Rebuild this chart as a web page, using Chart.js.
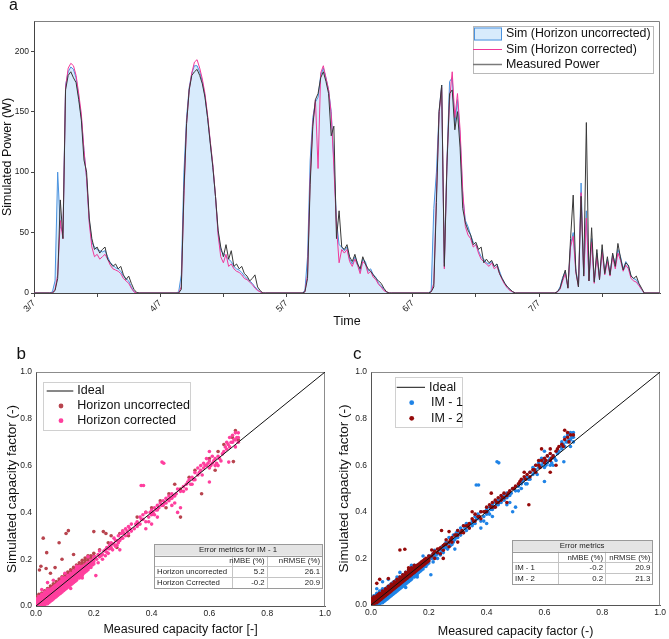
<!DOCTYPE html>
<html><head><meta charset="utf-8">
<script src="https://cdn.jsdelivr.net/npm/chart.js@4.4.1/dist/chart.umd.min.js"></script>
<style>
html,body{margin:0;padding:0;background:#fff;}
#wrap{position:relative;width:669px;height:639px;overflow:hidden;background:#fff;}
canvas{position:absolute;}
</style></head><body>
<div id="wrap">
<canvas id="ca" width="669" height="335" style="left:0;top:0;width:669px;height:335px"></canvas>
<canvas id="cb" width="335" height="304" style="left:0;top:335px;width:335px;height:304px"></canvas>
<canvas id="cc" width="334" height="304" style="left:335px;top:335px;width:334px;height:304px"></canvas>
</div>
<script>
// ---------- DATA ----------
const dayLabels = ['3/7','4/7','5/7','6/7','7/7'];
const dayHours = [3,3.5,4,4.5,5,5.5,6,6.5,7,7.5,8,8.5,9,9.5,10,10.5,11,11.5,12,12.5,13,13.5,14,14.5,15,15.5,16,16.5,17,17.5,18,18.5,19,19.5,20];
const powerTicks = [0,50,100,150,200];
const capTicks = [0,0.2,0.4,0.6,0.8,1.0];

const simUncorrected = [
 [0,1,10,100,55,50,172,183,187,185,178,162,145,118,95,60,42,38,36,35,34,35,30,25,23,21,20,18,14,12,10,5,1,0,0],
 [0,1,15,100,145,170,182,188,188,183,175,163,145,125,105,80,50,35,33,30,28,26,22,20,19,17,14,12,10,8,5,3,1,0,0],
 [0,2,30,110,145,158,162,180,186,178,168,150,110,60,40,38,35,38,28,24,30,25,18,28,26,18,20,15,13,8,6,3,1,0,0],
 [0,2,70,100,150,172,25,110,175,178,140,160,130,80,60,55,48,42,40,35,30,28,25,24,26,22,24,18,12,8,5,3,1,0,0],
 [0,1,5,13,18,5,40,50,20,6,91,16,68,12,45,10,33,13,36,18,28,17,32,24,36,30,20,26,22,14,12,11,7,3,0]
];
const simCorrected = [
 [0,0,3,15,60,45,170,186,190,188,180,165,148,118,95,58,38,30,32,28,30,32,28,23,20,19,18,16,12,10,8,4,1,0,0],
 [0,0,5,80,140,168,182,191,193,186,177,165,147,126,106,80,48,30,25,32,22,24,20,18,17,15,12,11,9,7,4,2,1,0,0],
 [0,1,15,95,140,160,103,182,188,178,168,148,105,55,25,36,33,36,26,22,28,23,16,26,24,16,18,13,11,7,5,2,1,0,0],
 [0,1,8,80,148,170,20,108,160,183,145,165,135,85,55,48,45,38,40,33,28,26,24,22,25,20,22,16,11,7,4,2,1,0,0],
 [0,1,3,10,16,4,38,47,17,5,83,14,62,10,42,8,30,11,34,15,26,14,30,20,33,27,18,23,20,12,10,9,6,3,0]
];
const measuredPower = [
 [0,0,2,12,77,45,168,180,183,178,174,160,143,110,100,62,45,36,38,33,36,38,28,25,22,24,20,22,15,11,14,8,3,0.5,0],
 [0,0,3,85,140,168,180,183,185,180,173,162,145,124,104,80,52,38,30,40,28,35,22,24,20,22,16,14,10,12,15,5,2,0,0],
 [0,1,12,90,138,160,165,178,183,175,165,130,138,45,68,38,36,40,30,26,32,24,20,30,24,20,18,15,12,10,8,4,1,0,0],
 [0,1,5,75,150,172,22,105,165,168,135,150,120,70,58,52,48,40,42,36,38,25,28,25,27,22,24,16,12,8,5,3,1,0,0],
 [0,1,4,12,19,4,45,81,18,5,80,14,141,10,54,9,36,11,40,16,30,15,33,22,41,29,19,25,23,14,12,14,8,4,0]
];

const idealLine = [[0,0],[1,1]];

// dense low-CF band, as columns [measured, [simulated values...]]
const bandCorrected = [
 [0,[0,0.01,0.02,0.03]],[0.005,[0,0.01,0.02,0.03]],[0.01,[0,0.01,0.02,0.03,0.04]],[0.015,[0,0.01,0.02,0.03,0.04]],
 [0.02,[0,0.01,0.02,0.03,0.04,0.05]],[0.025,[0,0.01,0.02,0.03,0.04,0.05]],[0.03,[0.005,0.015,0.025,0.035,0.045,0.055]],
 [0.035,[0.01,0.02,0.03,0.04,0.05,0.06]],[0.04,[0.01,0.02,0.03,0.04,0.05,0.06,0.07]],[0.045,[0.015,0.025,0.035,0.045,0.055,0.065]],
 [0.05,[0.02,0.03,0.04,0.05,0.06,0.07]],[0.055,[0.025,0.035,0.045,0.055,0.065,0.075]],[0.06,[0.03,0.04,0.05,0.06,0.07,0.08]],
 [0.065,[0.035,0.045,0.055,0.065,0.075,0.085]],[0.07,[0.04,0.05,0.06,0.07,0.08,0.09]],[0.075,[0.045,0.055,0.065,0.075,0.085,0.095]],
 [0.08,[0.05,0.06,0.07,0.08,0.09,0.1]],[0.085,[0.055,0.065,0.075,0.085,0.095,0.105]],[0.09,[0.06,0.07,0.08,0.09,0.1,0.11]],
 [0.095,[0.065,0.075,0.085,0.095,0.105,0.115]],[0.1,[0.07,0.08,0.09,0.1,0.11,0.12]],[0.105,[0.075,0.085,0.095,0.105,0.115]],
 [0.11,[0.08,0.09,0.1,0.11,0.12,0.13]],[0.115,[0.085,0.095,0.105,0.115,0.125]],[0.12,[0.09,0.1,0.11,0.12,0.13,0.14]],
 [0.125,[0.095,0.105,0.115,0.125,0.135]],[0.13,[0.1,0.11,0.12,0.13,0.14,0.15]],[0.135,[0.105,0.115,0.125,0.135,0.145]],
 [0.14,[0.11,0.12,0.13,0.14,0.15,0.16]],[0.145,[0.12,0.13,0.14,0.15,0.16]],[0.15,[0.12,0.13,0.14,0.15,0.16,0.17]],
 [0.155,[0.13,0.14,0.15,0.16]],[0.16,[0.13,0.14,0.15,0.16,0.17]],[0.165,[0.14,0.15,0.16,0.17]],[0.17,[0.145,0.155,0.165,0.175]],
 [0.175,[0.15,0.16,0.17,0.18]],[0.18,[0.155,0.165,0.175,0.185]],[0.185,[0.165,0.175,0.185]],[0.19,[0.165,0.175,0.185,0.195]],
 [0.195,[0.175,0.185,0.195]],[0.2,[0.18,0.19,0.2,0.21]]
];
const bandUncorrected = [
 [0,[0.02,0.03,0.04]],[0.01,[0.03,0.04,0.05]],[0.02,[0.035,0.045,0.055]],[0.03,[0.045,0.055,0.065]],[0.04,[0.055,0.065,0.075]],
 [0.05,[0.065,0.075,0.085]],[0.06,[0.075,0.085,0.095]],[0.07,[0.085,0.095,0.105]],[0.08,[0.095,0.105,0.115]],[0.09,[0.105,0.115,0.125]],
 [0.1,[0.115,0.125,0.135]],[0.11,[0.125,0.135,0.145]],[0.12,[0.135,0.145,0.155]],[0.13,[0.145,0.155,0.165]],[0.14,[0.155,0.165,0.175]],
 [0.15,[0.165,0.175,0.185]],[0.16,[0.175,0.185,0.195]],[0.17,[0.185,0.195,0.205]],[0.18,[0.195,0.205,0.215]],[0.19,[0.205,0.215]],[0.2,[0.215,0.225]]
];
const bandIM2 = [
 [0,[0,0.01,0.02,0.03]],[0.005,[0.005,0.015,0.025]],[0.01,[0.005,0.015,0.025,0.035]],[0.015,[0.01,0.02,0.03]],[0.02,[0.01,0.02,0.03,0.04]],
 [0.025,[0.015,0.025,0.035,0.045]],[0.03,[0.02,0.03,0.04,0.05]],[0.035,[0.025,0.035,0.045]],[0.04,[0.03,0.04,0.05,0.06]],[0.045,[0.035,0.045,0.055]],
 [0.05,[0.04,0.05,0.06,0.07]],[0.055,[0.045,0.055,0.065]],[0.06,[0.05,0.06,0.07,0.08]],[0.065,[0.055,0.065,0.075]],[0.07,[0.06,0.07,0.08,0.09]],
 [0.075,[0.065,0.075,0.085]],[0.08,[0.07,0.08,0.09,0.1]],[0.085,[0.075,0.085,0.095]],[0.09,[0.08,0.09,0.1,0.11]],[0.095,[0.085,0.095,0.105]],
 [0.1,[0.09,0.1,0.11,0.12]],[0.105,[0.095,0.105,0.115]],[0.11,[0.1,0.11,0.12,0.13]],[0.115,[0.105,0.115,0.125]],[0.12,[0.11,0.12,0.13,0.14]],
 [0.125,[0.115,0.125,0.135]],[0.13,[0.12,0.13,0.14,0.15]],[0.135,[0.125,0.135,0.145]],[0.14,[0.13,0.14,0.15,0.16]],[0.145,[0.135,0.145,0.155]],
 [0.15,[0.14,0.15,0.16,0.17]],[0.155,[0.145,0.155,0.165]],[0.16,[0.15,0.16,0.17]],[0.165,[0.155,0.165,0.175]],[0.17,[0.16,0.17,0.18]],
 [0.175,[0.165,0.175,0.185]],[0.18,[0.17,0.18,0.19]],[0.185,[0.175,0.185,0.195]],[0.19,[0.18,0.19,0.2]],[0.195,[0.185,0.195]],[0.2,[0.19,0.2,0.21]]
];

// scattered points (Horizon corrected = IM - 1)
const scatterCorrected = [
 [0.02,0.07],[0.03,0.06],[0.04,0.1],[0.06,0.11],[0.1,0.14],[0.12,0.075],[0.14,0.17],[0.16,0.12],[0.18,0.21],[0.09,0.12],[0.207,0.13],
 [0.21,0.2],[0.215,0.185],[0.22,0.21],[0.22,0.235],[0.23,0.22],[0.23,0.2],[0.24,0.24],[0.24,0.215],[0.245,0.25],[0.25,0.245],[0.25,0.225],
 [0.255,0.26],[0.26,0.25],[0.26,0.27],[0.265,0.24],[0.27,0.265],[0.27,0.29],[0.275,0.255],[0.28,0.28],[0.28,0.26],[0.285,0.3],[0.29,0.28],
 [0.29,0.24],[0.295,0.31],[0.3,0.29],[0.3,0.32],[0.31,0.3],[0.31,0.33],[0.32,0.31],[0.32,0.34],[0.33,0.32],[0.33,0.35],[0.34,0.33],
 [0.35,0.36],[0.35,0.34],[0.36,0.38],[0.36,0.35],[0.364,0.515],[0.372,0.515],[0.37,0.37],[0.37,0.39],[0.38,0.36],[0.38,0.4],[0.38,0.33],
 [0.39,0.38],[0.4,0.41],[0.4,0.39],[0.4,0.35],[0.41,0.42],[0.41,0.39],[0.42,0.43],[0.42,0.41],[0.42,0.38],[0.43,0.44],[0.436,0.615],
 [0.442,0.61],[0.44,0.45],[0.44,0.43],[0.45,0.46],[0.45,0.44],[0.46,0.47],[0.46,0.45],[0.47,0.48],[0.47,0.46],[0.47,0.43],[0.48,0.47],
 [0.48,0.44],[0.49,0.5],[0.49,0.4],[0.5,0.49],[0.5,0.42],[0.51,0.51],[0.52,0.52],[0.52,0.5],[0.53,0.54],[0.54,0.55],[0.54,0.52],
 [0.55,0.57],[0.55,0.54],[0.56,0.56],[0.56,0.59],[0.57,0.58],[0.57,0.6],[0.58,0.59],[0.58,0.61],[0.59,0.6],[0.59,0.63],[0.6,0.62],
 [0.6,0.59],[0.6,0.66],[0.6,0.53],[0.61,0.64],[0.61,0.61],[0.62,0.63],[0.62,0.6],[0.63,0.64],[0.63,0.6],[0.64,0.62],[0.65,0.66],
 [0.66,0.67],[0.66,0.7],[0.667,0.615],[0.67,0.68],[0.67,0.72],[0.68,0.7],[0.68,0.73],[0.69,0.71],[0.69,0.74],[0.7,0.72],[0.7,0.7],
 [0.205,0.21],[0.215,0.22],[0.225,0.215],[0.235,0.235],[0.245,0.23],[0.255,0.245],[0.265,0.265],[0.275,0.28],[0.285,0.27],[0.295,0.29],
 [0.305,0.31],[0.315,0.32],[0.325,0.33],[0.345,0.35],[0.355,0.35],[0.365,0.37],[0.39,0.36],[0.395,0.4],[0.405,0.4],[0.415,0.41],
 [0.425,0.42],[0.435,0.43],[0.445,0.44],[0.455,0.455],[0.465,0.46],[0.475,0.47],[0.485,0.48],[0.51,0.49],[0.525,0.53],[0.535,0.52],
 [0.545,0.54],[0.565,0.57],[0.575,0.56],[0.585,0.6],[0.595,0.61],[0.605,0.6],[0.615,0.62],[0.625,0.61],[0.635,0.63],[0.645,0.65],
 [0.655,0.68],[0.665,0.69],[0.675,0.7],[0.685,0.71],[0.695,0.72],[0.7,0.74],[0.69,0.68]
];
const scatterUncorrected = [
 [0.012,0.154],[0.017,0.17],[0.025,0.29],[0.035,0.16],[0.037,0.228],[0.05,0.14],[0.066,0.164],[0.08,0.27],[0.09,0.2],[0.104,0.31],[0.112,0.322],
 [0.13,0.22],[0.2,0.318],[0.233,0.318],[0.242,0.31],[0.26,0.3],[0.28,0.25],[0.22,0.24],[0.25,0.27],[0.29,0.31],[0.3,0.32],[0.32,0.3],[0.35,0.38],
 [0.38,0.4],[0.4,0.42],[0.43,0.45],[0.45,0.42],[0.46,0.48],[0.48,0.52],[0.5,0.5],[0.5,0.38],[0.53,0.55],[0.55,0.58],[0.573,0.48],[0.6,0.63],
 [0.62,0.58],[0.63,0.66],[0.65,0.69],[0.683,0.617],[0.68,0.72],[0.7,0.71],[0.69,0.75]
];
const scatterIM2 = [
 [0.02,0.093],[0.03,0.11],[0.06,0.114],[0.1,0.236],[0.117,0.239],[0.13,0.16],[0.21,0.236],[0.23,0.24],[0.244,0.32],[0.27,0.315],[0.25,0.2],
 [0.21,0.21],[0.22,0.2],[0.22,0.23],[0.23,0.225],[0.24,0.245],[0.24,0.22],[0.25,0.255],[0.25,0.235],[0.26,0.26],[0.26,0.28],[0.27,0.27],[0.27,0.25],
 [0.28,0.29],[0.28,0.27],[0.29,0.3],[0.3,0.3],[0.3,0.32],[0.3,0.27],[0.31,0.31],[0.32,0.34],[0.32,0.31],[0.33,0.34],[0.34,0.35],[0.34,0.33],[0.35,0.37],
 [0.35,0.4],[0.36,0.36],[0.36,0.39],[0.37,0.38],[0.38,0.4],[0.38,0.37],[0.39,0.4],[0.4,0.42],[0.4,0.4],[0.41,0.43],[0.416,0.48],[0.42,0.44],[0.42,0.42],
 [0.43,0.45],[0.44,0.46],[0.44,0.44],[0.45,0.47],[0.45,0.45],[0.46,0.48],[0.46,0.46],[0.47,0.47],[0.47,0.44],[0.48,0.49],[0.49,0.5],[0.5,0.51],
 [0.51,0.52],[0.52,0.54],[0.53,0.55],[0.53,0.57],[0.54,0.56],[0.546,0.43],[0.55,0.57],[0.55,0.55],[0.56,0.58],[0.57,0.6],[0.57,0.57],[0.58,0.6],
 [0.58,0.62],[0.59,0.62],[0.59,0.67],[0.6,0.63],[0.6,0.61],[0.61,0.64],[0.62,0.62],[0.62,0.65],[0.62,0.57],[0.63,0.64],[0.64,0.66],[0.65,0.68],
 [0.66,0.69],[0.67,0.71],[0.67,0.75],[0.68,0.72],[0.68,0.74],[0.69,0.73],[0.7,0.73],
 [0.215,0.22],[0.235,0.24],[0.255,0.26],[0.275,0.28],[0.295,0.3],[0.315,0.32],[0.335,0.34],[0.355,0.36],[0.375,0.38],[0.395,0.4],[0.415,0.42],
 [0.435,0.44],[0.455,0.46],[0.475,0.48],[0.495,0.5],[0.515,0.53],[0.535,0.54],[0.565,0.58],[0.585,0.59],[0.605,0.62],[0.625,0.63],[0.645,0.67],
 [0.665,0.68],[0.685,0.7],[0.62,0.67],[0.64,0.6],[0.43,0.42]
];

const metricsHead = ['nMBE (%)','nRMSE (%)'];
const metricsB = [['Horizon uncorrected','5.2','26.1'],['Horizon Ccrrected','-0.2','20.9']];
const metricsC = [['IM - 1','-0.2','20.9'],['IM - 2','0.2','21.3']];

// ---------- HELPERS ----------
const FONT = "'Liberation Sans', Arial, Helvetica, sans-serif";
Chart.defaults.font.family = FONT;
Chart.defaults.color = '#222';

function timeSeries(days){
  const pts=[{x:0,y:0}];
  days.forEach((vals,d)=>vals.forEach((v,i)=>pts.push({x:d*24+dayHours[i],y:v})));
  pts.push({x:119,y:0});
  return pts;
}
const xy = arr => arr.map(([x,y])=>({x,y}));
const bandXY = band => band.flatMap(([x,ys])=>ys.map(y=>({x,y})));

const framePlugin = {
  id:'frame',
  beforeDatasetsDraw(chart,args,o){
    const {ctx,chartArea:a}=chart;
    ctx.save(); ctx.strokeStyle=o.color||'#888'; ctx.lineWidth=1;
    const L=Math.round(a.left)+0.5,T=Math.round(a.top)+0.5,R=Math.round(a.right)-0.5,B=Math.round(a.bottom)+0.5;
    ctx.beginPath(); ctx.moveTo(L,T); ctx.lineTo(R,T); ctx.lineTo(R,B); ctx.stroke();
    ctx.restore();
  }
};
const letterPlugin = {
  id:'letter',
  afterDraw(chart,args,o){
    if(!o||!o.text) return;
    const ctx=chart.ctx; ctx.save();
    ctx.font=`${o.size}px ${FONT}`; ctx.fillStyle='#111'; ctx.textBaseline='alphabetic'; ctx.textAlign='left';
    ctx.fillText(o.text,o.x,o.y); ctx.restore();
  }
};
const legendPlugin = {
  id:'panelLegend',
  afterDraw(chart,args,o){
    if(!o||!o.items) return;
    const ctx=chart.ctx; ctx.save();
    const [x1,y1,x2,y2]=o.box;
    ctx.fillStyle='#fff'; ctx.fillRect(x1,y1,x2-x1,y2-y1);
    ctx.strokeStyle=o.border; ctx.lineWidth=1; ctx.strokeRect(Math.round(x1)+0.5,Math.round(y1)+0.5,Math.round(x2-x1),Math.round(y2-y1));
    ctx.font=`${o.size}px ${FONT}`; ctx.textBaseline='middle'; ctx.textAlign='left';
    o.items.forEach(it=>{
      const ds=chart.data.datasets[it.ds];
      if(it.kind==='fill'){
        ctx.fillStyle=ds.backgroundColor; ctx.fillRect(it.x1,it.y-it.h/2,it.x2-it.x1,it.h);
        ctx.strokeStyle=ds.borderColor; ctx.lineWidth=1; ctx.strokeRect(it.x1+0.5,it.y-it.h/2+0.5,it.x2-it.x1-1,it.h-1);
      } else if(it.kind==='line'){
        ctx.strokeStyle=it.color||ds.borderColor; ctx.lineWidth=it.w||1;
        ctx.beginPath(); ctx.moveTo(it.x1,it.y); ctx.lineTo(it.x2,it.y); ctx.stroke();
      } else {
        ctx.fillStyle=ds.backgroundColor; ctx.beginPath(); ctx.arc(it.cx,it.y,it.r,0,Math.PI*2); ctx.fill();
      }
      ctx.fillStyle='#111'; ctx.fillText(ds.label,it.tx,it.y);
    });
    ctx.restore();
  }
};
const tablePlugin = {
  id:'metricsTable',
  afterDraw(chart,args,o){
    if(!o||!o.rows) return;
    const ctx=chart.ctx; ctx.save();
    const [L,C1,C2,R]=o.xs, Y=o.ys;
    ctx.fillStyle='#fff'; ctx.fillRect(L,Y[0],R-L,Y[4]-Y[0]);
    ctx.fillStyle='#e4e4e4'; ctx.fillRect(L,Y[0],R-L,Y[1]-Y[0]);
    ctx.strokeStyle='#c4c4c4'; ctx.lineWidth=1;
    ctx.beginPath();
    for(let i=2;i<4;i++){ ctx.moveTo(L,Math.round(Y[i])+0.5); ctx.lineTo(R,Math.round(Y[i])+0.5); }
    [C1,C2].forEach(c=>{ ctx.moveTo(Math.round(c)+0.5,Y[1]); ctx.lineTo(Math.round(c)+0.5,Y[4]); });
    ctx.stroke();
    ctx.strokeStyle='#9a9a9a';
    ctx.beginPath(); ctx.moveTo(L,Math.round(Y[1])+0.5); ctx.lineTo(R,Math.round(Y[1])+0.5); ctx.stroke();
    ctx.strokeRect(Math.round(L)+0.5,Math.round(Y[0])+0.5,Math.round(R-L),Math.round(Y[4]-Y[0]));
    ctx.font=`${o.size}px ${FONT}`; ctx.fillStyle='#222'; ctx.textBaseline='middle';
    const mid=i=>(Y[i]+Y[i+1])/2+0.5;
    ctx.textAlign='center'; ctx.fillText(o.title,(L+R)/2,mid(0));
    ctx.textAlign='right'; ctx.fillText(o.head[0],C2-2,mid(1)); ctx.fillText(o.head[1],R-2,mid(1));
    o.rows.forEach((r,k)=>{
      ctx.textAlign='left'; ctx.fillText(r[0],L+3,mid(2+k));
      ctx.textAlign='right'; ctx.fillText(r[1],C2-2,mid(2+k)); ctx.fillText(r[2],R-2,mid(2+k));
    });
    ctx.restore();
  }
};

// ---------- CHART A ----------
new Chart(document.getElementById('ca'),{
  type:'line',
  data:{datasets:[
    {label:'Sim (Horizon uncorrected)',data:timeSeries(simUncorrected),borderColor:'#4a92de',backgroundColor:'rgba(216,235,252,1)',fill:'origin',borderWidth:1,pointRadius:0,tension:0,order:3},
    {label:'Sim (Horizon corrected)',data:timeSeries(simCorrected),borderColor:'#f0389a',backgroundColor:'#f0389a',fill:false,borderWidth:1,pointRadius:0,tension:0,order:2},
    {label:'Measured Power',data:timeSeries(measuredPower),borderColor:'#383838',backgroundColor:'#383838',fill:false,borderWidth:1,pointRadius:0,tension:0,order:1}
  ]},
  options:{
    responsive:false,animation:false,
    layout:{padding:{top:21,right:9,left:0,bottom:0}},
    scales:{
      x:{type:'linear',min:0,max:119,
        afterBuildTicks:s=>{s.ticks=dayLabels.flatMap((l,i)=>[{value:i*24},{value:i*24+12}]);},
        ticks:{autoSkip:false,minRotation:45,maxRotation:45,padding:1,font:{size:9},color:'#222',
          callback:v=>(v%24===0?dayLabels[v/24]:'')},
        grid:{display:true,drawOnChartArea:false,drawTicks:true,tickLength:4,color:'#444'},
        border:{color:'#444'},
        title:{display:true,text:'Time',font:{size:12.5},color:'#111',padding:{top:0,bottom:5.5}},
        afterFit:s=>{s.height=42;}},
      y:{type:'linear',min:0,max:225,
        afterBuildTicks:s=>{s.ticks=powerTicks.map(v=>({value:v}));},
        ticks:{padding:2,font:{size:8.5},color:'#222'},
        grid:{display:true,drawOnChartArea:false,drawTicks:true,tickLength:3,color:'#444'},
        border:{color:'#444'},
        title:{display:true,text:'Simulated Power (W)',font:{size:12.5},color:'#111',padding:{top:0,bottom:0}},
        afterFit:s=>{s.width=34;}}
    },
    plugins:{
      legend:{display:false},tooltip:{enabled:false},
      frame:{color:'#808080'},
      letter:{text:'a',x:9,y:10,size:16},
      panelLegend:{box:[472.7,26,652.7,73.3],border:'#b8b8b8',size:12.4,items:[
        {ds:0,kind:'fill',x1:474,x2:502,y:34,h:13,tx:506},
        {ds:1,kind:'line',x1:473,x2:502,y:49.5,tx:506},
        {ds:2,kind:'line',x1:473,x2:502,y:64.5,tx:506,color:'#7a7a7a',w:1.5}
      ]}
    }
  },
  plugins:[framePlugin,letterPlugin,legendPlugin]
});

// ---------- CHART B / C ----------
function capScales(xTitle,xh,yPad,xPad){
  return {
    x:{type:'linear',min:0,max:1,
      afterBuildTicks:s=>{s.ticks=capTicks.map(v=>({value:v}));},
      ticks:{autoSkip:false,maxRotation:0,padding:3,font:{size:8.5},color:'#222',callback:v=>v.toFixed(1)},
      grid:{display:false,drawTicks:false},border:{color:'#555'},
      title:{display:true,text:xTitle,font:{size:12.5},color:'#111',padding:{top:0,bottom:xPad}},
      afterFit:s=>{s.height=xh;}},
    y:{type:'linear',min:0,max:1,
      afterBuildTicks:s=>{s.ticks=capTicks.map(v=>({value:v}));},
      ticks:{padding:4,font:{size:8.5},color:'#222',callback:v=>v.toFixed(1)},
      grid:{display:false,drawTicks:false},border:{color:'#555'},
      title:{display:true,text:'Simulated capacity factor (-)',font:{size:13.5},color:'#111',padding:{top:yPad,bottom:0}},
      afterFit:s=>{s.width=36;}}
  };
}
const idealDs = () => ({type:'line',label:'Ideal',data:xy(idealLine),borderColor:'#111',backgroundColor:'#111',borderWidth:1,pointRadius:0,showLine:true,fill:false,order:0});
const dotDs = (label,pts,color,order) => ({label,data:pts,backgroundColor:color,borderColor:color,pointBackgroundColor:color,pointBorderWidth:0,pointRadius:1.8,pointHoverRadius:1.8,showLine:false,order});

new Chart(document.getElementById('cb'),{
  type:'scatter',
  data:{datasets:[
    idealDs(),
    dotDs('Horizon uncorrected',bandXY(bandUncorrected).concat(xy(scatterUncorrected)),'#b8444e',2),
    dotDs('Horizon corrected',bandXY(bandCorrected).concat(xy(scatterCorrected)),'#ff3f9e',1)
  ]},
  options:{
    responsive:false,animation:false,
    layout:{padding:{top:37,right:10,left:0,bottom:0}},
    scales:capScales('Measured capacity factor [-]',33,4,1.5),
    plugins:{
      legend:{display:false},tooltip:{enabled:false},
      frame:{color:'#8c8c8c'},
      letter:{text:'b',x:16.5,y:24.3,size:17},
      panelLegend:{box:[43.3,46.7,190,94.3],border:'#d0d0d0',size:12.5,items:[
        {ds:0,kind:'line',x1:46.7,x2:73.3,y:56,tx:77.3},
        {ds:1,kind:'dot',cx:61,r:2.4,y:71,tx:77.3},
        {ds:2,kind:'dot',cx:61,r:2.4,y:85.7,tx:77.3}
      ]},
      metricsTable:{xs:[154,232,266.7,322],ys:[209,220.7,231,241.7,253.3],size:7.8,title:'Error metrics for IM - 1',head:metricsHead,rows:metricsB}
    }
  },
  plugins:[framePlugin,letterPlugin,legendPlugin,tablePlugin]
});

new Chart(document.getElementById('cc'),{
  type:'scatter',
  data:{datasets:[
    idealDs(),
    dotDs('IM - 1',bandXY(bandCorrected).concat(xy(scatterCorrected)),'#1f83e6',2),
    dotDs('IM - 2',bandXY(bandIM2).concat(xy(scatterIM2)),'#950a0a',1)
  ]},
  options:{
    responsive:false,animation:false,
    layout:{padding:{top:37,right:8,left:0,bottom:0}},
    scales:capScales('Measured capacity factor (-)',34,1.6,0),
    plugins:{
      legend:{display:false},tooltip:{enabled:false},
      frame:{color:'#8c8c8c'},
      letter:{text:'c',x:18,y:24.3,size:17},
      panelLegend:{box:[60,41.7,126.7,91.7],border:'#d0d0d0',size:12.5,items:[
        {ds:0,kind:'line',x1:61.7,x2:90,y:52.3,tx:94},
        {ds:1,kind:'dot',cx:76.7,r:2.4,y:67.7,tx:96},
        {ds:2,kind:'dot',cx:76.7,r:2.4,y:83.3,tx:96}
      ]},
      metricsTable:{xs:[177,222.7,270,317.3],ys:[205,216.7,227.3,238.3,249.3],size:7.8,title:'Error metrics',head:metricsHead,rows:metricsC}
    }
  },
  plugins:[framePlugin,letterPlugin,legendPlugin,tablePlugin]
});
</script>
</body></html>
